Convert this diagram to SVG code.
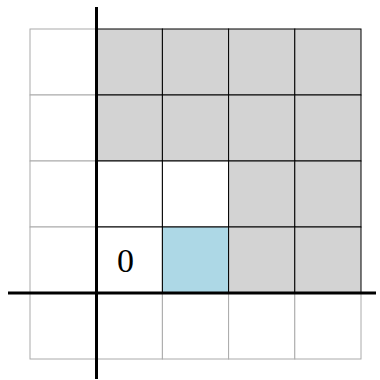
<svg xmlns="http://www.w3.org/2000/svg" width="380" height="380" viewBox="0 0 380 380">
<style>
.out{fill:#ffffff;stroke:#aaaaaa;stroke-width:1}
.in{fill:#ffffff;stroke:#000000;stroke-width:1}
.g{fill:#d3d3d3}
.b{fill:#add8e6}
.axis{stroke:#000000;stroke-width:3}
.lbl{font-family:"Liberation Serif","DejaVu Serif",serif;font-size:34px;fill:#000}
</style>
<rect width="380" height="380" fill="#ffffff"/>
<g id="outer-cells">
<rect class="out" x="30" y="29" width="66.2" height="66"/>
<rect class="out" x="30" y="95" width="66.2" height="66"/>
<rect class="out" x="30" y="161" width="66.2" height="66"/>
<rect class="out" x="30" y="227" width="66.2" height="66"/>
<rect class="out" x="30" y="293" width="66.2" height="66"/>
<rect class="out" x="96.2" y="293" width="66.2" height="66"/>
<rect class="out" x="162.4" y="293" width="66.2" height="66"/>
<rect class="out" x="228.6" y="293" width="66.2" height="66"/>
<rect class="out" x="294.8" y="293" width="66.2" height="66"/>
</g>
<g id="inner-cells">
<rect class="in g" x="96.2" y="29" width="66.2" height="66"/>
<rect class="in g" x="162.4" y="29" width="66.2" height="66"/>
<rect class="in g" x="228.6" y="29" width="66.2" height="66"/>
<rect class="in g" x="294.8" y="29" width="66.2" height="66"/>
<rect class="in g" x="96.2" y="95" width="66.2" height="66"/>
<rect class="in g" x="162.4" y="95" width="66.2" height="66"/>
<rect class="in g" x="228.6" y="95" width="66.2" height="66"/>
<rect class="in g" x="294.8" y="95" width="66.2" height="66"/>
<rect class="in" x="96.2" y="161" width="66.2" height="66"/>
<rect class="in" x="162.4" y="161" width="66.2" height="66"/>
<rect class="in g" x="228.6" y="161" width="66.2" height="66"/>
<rect class="in g" x="294.8" y="161" width="66.2" height="66"/>
<g id="origin-cell"><rect class="in" x="96.2" y="227" width="66.2" height="66"/>
<text class="lbl" x="125.5" y="272" text-anchor="middle">0</text></g>
<rect class="in b" x="162.4" y="227" width="66.2" height="66"/>
<rect class="in g" x="228.6" y="227" width="66.2" height="66"/>
<rect class="in g" x="294.8" y="227" width="66.2" height="66"/>
</g>
<g id="axes">
<line class="axis" x1="96.5" y1="7" x2="96.5" y2="379"/>
<line class="axis" x1="8" y1="293" x2="376" y2="293"/>
</g>
</svg>
